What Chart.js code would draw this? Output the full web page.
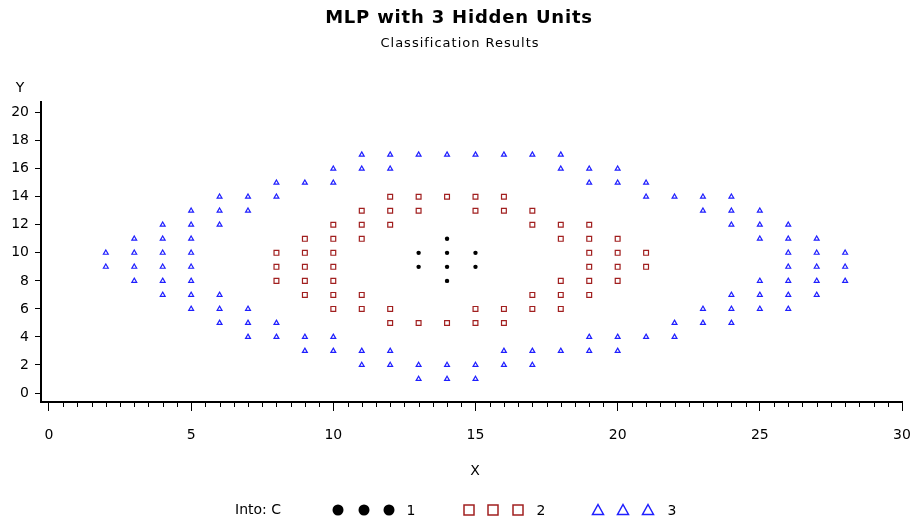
<!DOCTYPE html>
<html>
<head>
<meta charset="utf-8">
<title>MLP with 3 Hidden Units</title>
<script src="https://cdn.jsdelivr.net/npm/chart.js@4.4.1/dist/chart.umd.min.js"></script>
<style>
  html, body { margin: 0; padding: 0; background: #fff; }
  #wrap { width: 914px; height: 521px; }
</style>
</head>
<body>
<div id="wrap"><canvas id="mlpChart" width="914" height="521"></canvas></div>
<script>
// Classified grid points, listed row by row: Y value -> X values
const class1Rows = {
    11: [14],
    10: [13, 14, 15],
    9:  [13, 14, 15],
    8:  [14]
};
const class2Rows = {
    14: [12, 13, 14, 15, 16],
    13: [11, 12, 13, 15, 16, 17],
    12: [10, 11, 12, 17, 18, 19],
    11: [9, 10, 11, 18, 19, 20],
    10: [8, 9, 10, 19, 20, 21],
    9:  [8, 9, 10, 19, 20, 21],
    8:  [8, 9, 10, 18, 19, 20],
    7:  [9, 10, 11, 17, 18, 19],
    6:  [10, 11, 12, 15, 16, 17, 18],
    5:  [12, 13, 14, 15, 16]
};
const class3Rows = {
    17: [11, 12, 13, 14, 15, 16, 17, 18],
    16: [10, 11, 12, 18, 19, 20],
    15: [8, 9, 10, 19, 20, 21],
    14: [6, 7, 8, 21, 22, 23, 24],
    13: [5, 6, 7, 23, 24, 25],
    12: [4, 5, 6, 24, 25, 26],
    11: [3, 4, 5, 25, 26, 27],
    10: [2, 3, 4, 5, 26, 27, 28],
    9:  [2, 3, 4, 5, 26, 27, 28],
    8:  [3, 4, 5, 25, 26, 27, 28],
    7:  [4, 5, 6, 24, 25, 26, 27],
    6:  [5, 6, 7, 23, 24, 25, 26],
    5:  [6, 7, 8, 22, 23, 24],
    4:  [7, 8, 9, 10, 19, 20, 21, 22],
    3:  [9, 10, 11, 12, 16, 17, 18, 19, 20],
    2:  [11, 12, 13, 14, 15, 16, 17],
    1:  [13, 14, 15]
};

const classLabels = ['1', '2', '3'];
const xTicks = [0, 5, 10, 15, 20, 25, 30];
const yTicks = [0, 2, 4, 6, 8, 10, 12, 14, 16, 18, 20];

const RED = '#a11f1f';
const BLUE = '#1f1fff';
const FONT = "'DejaVu Sans', sans-serif";

function toPoints(rows) {
    const pts = [];
    Object.keys(rows).forEach(y => {
        rows[y].forEach(x => pts.push({ x: x, y: Number(y) }));
    });
    return pts;
}

// Titles, axis letters, minor ticks and the "Into: C" key
const decorations = {
    id: 'decorations',
    afterDraw(chart) {
        const ctx = chart.ctx;
        const xs = chart.scales.x;
        const area = chart.chartArea;
        ctx.save();
        ctx.fillStyle = '#000';
        ctx.textAlign = 'center';
        ctx.textBaseline = 'middle';
        ctx.font = 'bold 18px ' + FONT;
        ctx.letterSpacing = '0.8px';
        ctx.fillText('MLP with 3 Hidden Units', 459, 18);
        ctx.font = '13px ' + FONT;
        ctx.letterSpacing = '1px';
        ctx.fillText('Classification Results', 460, 44);
        ctx.letterSpacing = '0px';
        ctx.font = '14px ' + FONT;
        ctx.fillText('Y', 20, 88);
        ctx.fillText('X', 475, 471);

        // half-unit minor ticks on X
        ctx.strokeStyle = '#000';
        ctx.lineWidth = 1;
        for (let v = 0.5; v < 30; v += 0.5) {
            if (v % 5 === 0) continue;
            const px = Math.round(xs.getPixelForValue(v)) + 0.5;
            ctx.beginPath();
            ctx.moveTo(px, area.bottom);
            ctx.lineTo(px, area.bottom + 5);
            ctx.stroke();
        }

        // key
        const ky = 510;
        ctx.textAlign = 'left';
        ctx.fillText('Into: C', 235, ky);
        ctx.textAlign = 'center';
        [338, 364, 389].forEach(cx => {
            ctx.beginPath();
            ctx.arc(cx, ky, 5.5, 0, Math.PI * 2);
            ctx.fill();
        });
        ctx.fillText(classLabels[0], 411, ky + 1);

        ctx.strokeStyle = RED;
        ctx.lineWidth = 1.5;
        [469, 493, 518].forEach(cx => {
            ctx.strokeRect(cx - 5, ky - 5, 10, 10);
        });
        ctx.fillText(classLabels[1], 541, ky + 1);

        ctx.strokeStyle = BLUE;
        [598, 623, 648].forEach(cx => {
            ctx.beginPath();
            ctx.moveTo(cx, ky - 5.5);
            ctx.lineTo(cx + 5.5, ky + 4.5);
            ctx.lineTo(cx - 5.5, ky + 4.5);
            ctx.closePath();
            ctx.stroke();
        });
        ctx.fillText(classLabels[2], 672, ky + 1);
        ctx.restore();
    }
};

const ctx = document.getElementById('mlpChart').getContext('2d');
const chart = new Chart(ctx, {
    type: 'scatter',
    data: {
        datasets: [
            {
                label: classLabels[0],
                data: toPoints(class1Rows),
                pointStyle: 'circle',
                pointRadius: 2.2,
                backgroundColor: '#000',
                borderColor: '#000',
                borderWidth: 0
            },
            {
                label: classLabels[1],
                data: toPoints(class2Rows),
                pointStyle: 'rect',
                pointRadius: 3.4,
                backgroundColor: 'rgba(0,0,0,0)',
                borderColor: RED,
                borderWidth: 1.2
            },
            {
                label: classLabels[2],
                data: toPoints(class3Rows),
                pointStyle: 'triangle',
                pointRadius: 2.8,
                backgroundColor: 'rgba(0,0,0,0)',
                borderColor: BLUE,
                borderWidth: 1.2
            }
        ]
    },
    options: {
        responsive: false,
        animation: false,
        layout: { padding: { top: 102, right: 12, bottom: 59, left: 0 } },
        scales: {
            x: {
                type: 'linear',
                min: -0.28,
                max: 30,
                afterBuildTicks: axis => { axis.ticks = xTicks.map(v => ({ value: v })); },
                afterFit: axis => { axis.height = 60; axis.paddingLeft = 0; axis.paddingRight = 0; },
                grid: { display: true, drawOnChartArea: false, drawTicks: true, tickLength: 9, color: '#000', lineWidth: 1 },
                border: { display: true, color: '#000', width: 2 },
                ticks: { color: '#000', font: { family: FONT, size: 14 }, padding: 16, maxRotation: 0, autoSkip: false }
            },
            y: {
                type: 'linear',
                min: -0.64,
                max: 20.76,
                afterBuildTicks: axis => { axis.ticks = yTicks.map(v => ({ value: v })); },
                afterFit: axis => { axis.width = 41; axis.paddingTop = 0; axis.paddingBottom = 0; },
                grid: { display: true, drawOnChartArea: false, drawTicks: true, tickLength: 6, color: '#000', lineWidth: 1 },
                border: { display: true, color: '#000', width: 2 },
                ticks: { color: '#000', font: { family: FONT, size: 14 }, padding: 6, autoSkip: false }
            }
        },
        plugins: {
            legend: { display: false },
            tooltip: { enabled: false },
            title: { display: false }
        }
    },
    plugins: [decorations]
});
</script>
</body>
</html>
